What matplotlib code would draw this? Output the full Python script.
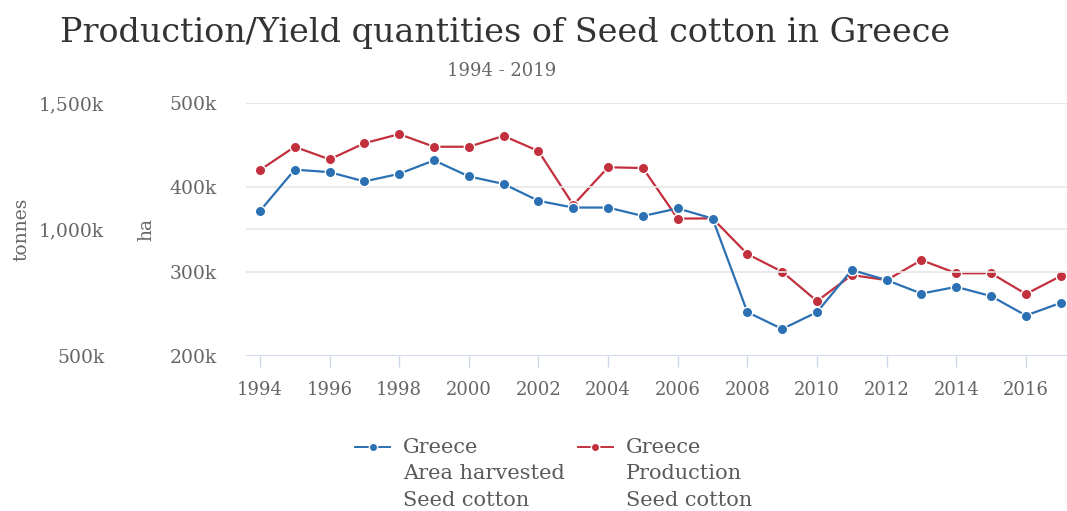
import matplotlib.pyplot as plt
import matplotlib.ticker as mticker
from matplotlib.lines import Line2D

years = list(range(1994, 2018))

# area harvested, thousand ha
area_ha = [372, 421, 418, 407, 416, 432, 413, 404, 384, 376,
           376, 366, 375, 363, 252, 232, 252, 302, 290, 274,
           282, 271, 248, 263]

# production, thousand tonnes
production_t = [1235, 1327, 1277, 1341, 1377, 1327, 1327, 1370, 1310, 1097,
                1246, 1243, 1043, 1044, 903, 833, 717, 820, 800, 879,
                827, 827, 745, 816]

x_ticks = list(range(1994, 2017, 2))
ha_ticks = [200, 300, 400, 500]
t_ticks = [500, 1000, 1500]

series_names = [['Greece', 'Area harvested', 'Seed cotton'],
                ['Greece', 'Production', 'Seed cotton']]

blue = '#2b70b3'
red = '#c3303d'
grey = '#666666'
grid = '#e6e6e6'

plt.rcParams['font.family'] = ['DejaVu Serif']

W, H = 1067, 511
fig = plt.figure(figsize=(W / 100, H / 100), dpi=100)
ax = fig.add_axes([246 / W, 1 - 356 / H, 821 / W, 253 / H])
ax2 = ax.twinx()

ax.set_xlim(1993.6, 2017.18)
ax.set_ylim(200, 500)
ax2.set_ylim(500, 1500)

for a in (ax, ax2):
    for s in a.spines.values():
        s.set_visible(False)
    a.grid(axis='y', color=grid, linewidth=1.2)
    a.set_axisbelow(True)

ax.axhline(200, color='#ccd6eb', linewidth=1.2, zorder=1)

ax2.plot(years, production_t, color=red, linewidth=1.6, marker='o',
         markersize=7.5, markeredgecolor='white', markeredgewidth=1.0,
         zorder=3)
ax.plot(years, area_ha, color=blue, linewidth=1.6, marker='o',
        markersize=7.5, markeredgecolor='white', markeredgewidth=1.0,
        zorder=3)
ax.set_zorder(ax2.get_zorder() + 1)
ax.patch.set_visible(False)

ax.set_xticks(x_ticks)
ax.tick_params(axis='x', length=8, width=1, color='#ccd6eb', pad=10,
               labelsize=13, labelcolor=grey)

ax.set_yticks(ha_ticks)
ax.yaxis.set_major_formatter(mticker.FuncFormatter(lambda v, p: f'{int(v)}k'))
ax.tick_params(axis='y', length=0, pad=21, labelsize=13.5, labelcolor=grey)
ax.set_ylabel('ha', color=grey, fontsize=13.5)
ax.yaxis.set_label_coords(-0.111, 0.5)

ax2.yaxis.tick_left()
ax2.yaxis.set_label_position('left')
ax2.set_yticks(t_ticks)
ax2.yaxis.set_major_formatter(mticker.FuncFormatter(lambda v, p: f'{int(v):,}k'))
ax2.tick_params(axis='y', length=0, pad=102, labelsize=13.5, labelcolor=grey)
ax2.set_ylabel('tonnes', color=grey, fontsize=13.5)
ax2.yaxis.set_label_coords(-0.263, 0.5)

fig.text(505 / W, 1 - 33 / H, 'Production/Yield quantities of Seed cotton in Greece',
         ha='center', va='center', fontsize=24, color='#333333')
fig.text(502 / W, 1 - 71 / H, '1994 - 2019', ha='center', va='center',
         fontsize=13, color=grey)

# legend below the plot, handle level with the first text line
for (x0, color, names) in [(355, blue, series_names[0]), (578, red, series_names[1])]:
    y0 = 1 - 447 / H
    fig.add_artist(Line2D([x0 / W, (x0 + 35) / W], [y0, y0], color=color,
                          linewidth=1.4, transform=fig.transFigure))
    fig.add_artist(Line2D([(x0 + 17.5) / W], [y0], color=color, marker='o',
                          markersize=6, markeredgecolor='white',
                          markeredgewidth=1.0, transform=fig.transFigure))
    for i, line in enumerate(names):
        fig.text((x0 + 48) / W, 1 - (447 + 26.5 * i) / H, line, ha='left',
                 va='center', fontsize=15, color='#5a5a5a')

fig.savefig('out.png', dpi=100)
